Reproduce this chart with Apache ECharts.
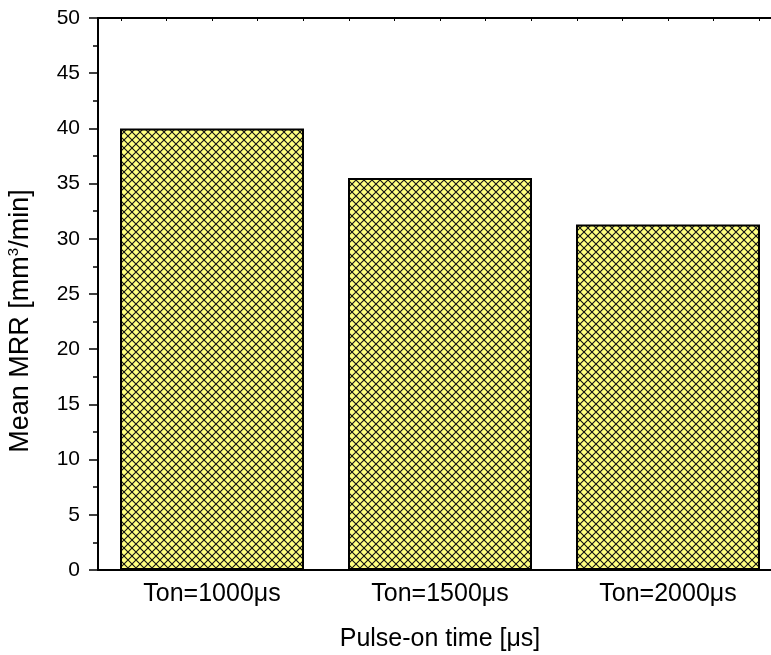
<!DOCTYPE html>
<html>
<head>
<meta charset="utf-8">
<script src="https://cdn.jsdelivr.net/npm/echarts@6/dist/echarts.min.js"></script>
<style>
  html, body { margin: 0; padding: 0; background: #fff; }
  #chart { width: 771px; height: 655px; }
</style>
</head>
<body>
<div id="chart"></div>
<script>
// Pulse-on time settings and the mean material removal rate for each
const categories = ['Ton=1000\u03bcs', 'Ton=1500\u03bcs', 'Ton=2000\u03bcs'];
const meanMRR = [40.0, 35.5, 31.3];
const yTicks = { min: 0, max: 50, interval: 5 };
// the top frame carries five small ticks per category slot
const topTickSlots = new Array(categories.length * 5).fill('');

const FONT = '"Liberation Sans", Arial, sans-serif';

// Cross-hatched yellow fill for the bars
function hatchPattern() {
  const size = 8;
  const c = document.createElement('canvas');
  c.width = size; c.height = size;
  const g = c.getContext('2d');
  g.fillStyle = '#ffff80';
  g.fillRect(0, 0, size, size);
  g.strokeStyle = '#111';
  g.lineWidth = 1.1;
  g.beginPath();
  g.moveTo(0, 0); g.lineTo(size, size);
  g.moveTo(size, 0); g.lineTo(0, size);
  g.stroke();
  return c;
}

const chart = echarts.init(document.getElementById('chart'), null, { renderer: 'canvas' });

chart.setOption({
  animation: false,
  backgroundColor: '#ffffff',
  // the plot frame runs on past the right edge of the canvas
  grid: { left: 98, top: 18, right: -11, bottom: 85, containLabel: false, outerBoundsMode: 'none' },
  xAxis: [
    {
      type: 'category',
      data: categories,
      position: 'bottom',
      axisLine: { lineStyle: { color: '#000', width: 2 } },
      axisTick: { show: false },
      axisLabel: { color: '#000', fontSize: 25, fontFamily: FONT, margin: 12 },
      name: 'Pulse-on time [\u03bcs]',
      nameLocation: 'middle',
      nameGap: 57,
      nameTextStyle: { color: '#000', fontSize: 25, fontFamily: FONT, verticalAlign: 'top' }
    },
    {
      type: 'category',
      data: topTickSlots,
      position: 'top',
      axisLine: { show: true, lineStyle: { color: '#000', width: 2 } },
      axisTick: { show: true, inside: true, alignWithLabel: true, interval: 0, length: 3, lineStyle: { color: '#000', width: 1 } },
      axisLabel: { show: false },
      splitLine: { show: false }
    }
  ],
  yAxis: {
    type: 'value',
    min: yTicks.min, max: yTicks.max, interval: yTicks.interval,
    axisLine: { show: true, lineStyle: { color: '#000', width: 2 } },
    axisTick: { show: true, length: 9, lineStyle: { color: '#000', width: 1.5 } },
    minorTick: { show: true, splitNumber: 2, length: 5, lineStyle: { color: '#000', width: 1.5 } },
    axisLabel: { color: '#000', fontSize: 21, fontFamily: FONT, margin: 18 },
    splitLine: { show: false }
  },
  graphic: [{
    type: 'text',
    x: 21, y: 321,
    rotation: Math.PI / 2,
    style: {
      text: '{a|Mean MRR [mm}{s|3}{a|/min]}',
      align: 'center',
      verticalAlign: 'middle',
      fill: '#000',
      rich: {
        a: { fontSize: 27, fontFamily: FONT, fill: '#000', lineHeight: 30 },
        s: { fontSize: 15, fontFamily: FONT, fill: '#000', verticalAlign: 'top', lineHeight: 30 }
      }
    }
  }],
  series: [{
    type: 'bar',
    xAxisIndex: 0,
    data: meanMRR,
    barWidth: '80.7%',
    itemStyle: {
      color: { image: hatchPattern(), repeat: 'repeat' },
      borderColor: '#000',
      borderWidth: 2
    }
  }]
});
</script>
</body>
</html>
